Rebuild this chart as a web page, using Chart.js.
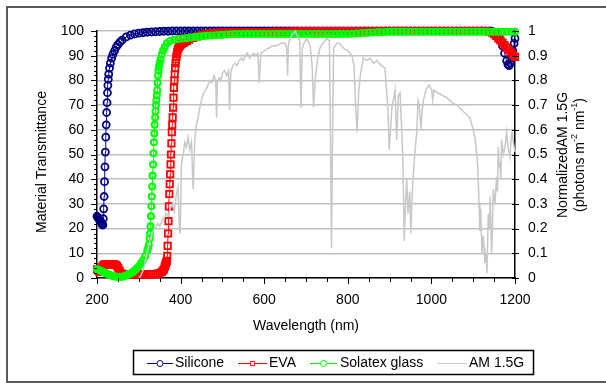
<!DOCTYPE html>
<html>
<head>
<meta charset="utf-8">
<script src="https://cdn.jsdelivr.net/npm/chart.js@4.4.0/dist/chart.umd.min.js"></script>
<style>
  html, body { margin: 0; padding: 0; background: #fff; }
  #wrap { width: 606px; height: 383px; }
</style>
</head>
<body>
<div id="wrap"><canvas id="chart" width="606" height="383"></canvas></div>
<script>
// ---- data ----
const seriesNames = ["Silicone", "EVA", "Solatex glass", "AM 1.5G"];

const siliconeWl = [
  200,202,204,206,208,210,212,213,214,215,
  216,217,218,219,220,221,222,223,224,225,
  226,227,228,230,232,235,238,242,246,250,
  255,260,270,280,290,300,310,320,330,340,
  350,360,370,
  380,390,400,410,420,430,440,450,460,470,480,
  490,500,510,520,530,540,550,560,570,580,590,
  600,610,620,630,640,650,660,670,680,690,700,
  710,720,730,740,750,760,770,780,790,800,810,
  820,830,840,850,860,870,880,890,900,910,920,
  930,940,950,960,970,980,990,1000,1010,1020,1030,
  1040,1050,1060,1070,1080,1090,1100,1110,1120,1130,1140,
  1145,1150,1155,1160,1165,1170,1175,1180,1183,1186,
  1189,1192,1195,1198,1200
];
const siliconeT = [
  25,24.5,24,23.5,23,22.5,22,21.5,21.5,24,
  28,33,39,45,51,57,62,67,71,75,
  78,80.5,82.5,85,87,89,90.5,92,93.5,94.5,
  95.5,96.3,97.6,98.3,98.8,99.1,99.3,99.5,99.6,99.7,
  99.8,99.9,99.9,
  100,100,100,100,100,100,100,100,100,100,100,
  100,100,100,100,100,100,100,100,100,100,100,
  100,100,100,100,100,100,100,100,100,100,100,
  100,100,100,100,100,100,100,100,100,100,100,
  100,100,100,100,100,100,100,100,100,100,100,
  100,100,100,100,100,100,100,100,100,100,100,
  100,100,100,100,100,100,100,100,100,100,100,
  99.8,99.5,99,98,96.5,94,91,88,86.5,86,
  87,89,92,95,97
];

const evaWl = [
  200,203,206,209,212,215,218,221,224,227,
  230,233,236,239,242,245,248,251,254,257,
  260,265,270,275,280,285,290,295,300,305,
  310,315,320,325,330,335,340,345,350,355,
  358,360,362,363,364,365,366,367,368,369,
  370,371,372,373,374,375,376,377,378,379,
  380,381,382,383,384,385,386,387,388,389,
  390,391,392,393,394,396,398,400,403,406,
  410,415,420,430,440,450,460,470,480,490,
  500,510,520,530,540,550,560,570,580,590,
  600,610,620,630,640,650,660,670,680,
  690,700,710,720,730,740,750,760,770,780,
  790,800,810,820,830,840,850,860,870,880,
  890,900,910,920,930,940,950,960,970,980,
  990,1000,1010,1020,1030,1040,1050,1060,1070,1080,
  1090,1100,1110,1120,1130,
  1140,1145,1150,1155,1160,1165,1170,1175,1180,1185,1190,1195,1200
];
const evaT = [
  3.5,3,2.5,3,4.5,5.2,5.5,5.5,5.5,5.5,
  5.5,5.5,5.5,5.5,5.5,5.2,4.8,4,3,2,
  1.5,1.4,1.5,1.5,1.4,1.5,1.5,1.5,1.4,1.5,
  1.5,1.5,1.5,1.5,1.5,1.6,1.6,1.8,2,2.5,
  3,3.5,4.5,5,5.5,6,6.5,7,9,13,
  18,23,29,34,38,42,46,50,54.5,59,
  62,65,69,73,77,80,82.5,85,87,88.5,
  89.5,90.5,91.5,92.2,92.8,93.5,94,94.4,94.8,95.2,
  95.5,96,96.5,97.2,97.8,98.3,98.7,99,99.2,99.3,
  99.4,99.4,99.5,99.5,99.5,99.5,99.6,99.6,99.6,99.6,
  99.6,99.6,99.7,99.7,99.7,99.7,99.8,99.8,99.8,
  100,100,100,100,100,100,100,100,100,100,
  100,100,100,100,100,100,100,100,100,100,
  100,100,100,100,100,100,100,100,100,100,
  100,100,100,100,100,100,100,100,100,100,
  100,100,100,100,100,
  99.7,99.3,98.7,98,97,96.2,95.3,94.3,93.3,92.3,91.3,90.3,89.5
];

const glassWl = [
  200,205,210,215,220,225,230,235,240,245,
  250,255,260,265,270,275,280,285,290,295,
  300,305,310,315,320,322,324,326,327,328,
  329,330,331,332,333,334,335,336,337,338,
  339,340,341,342,343,344,345,346,347,348,
  350,352,355,358,362,367,375,385,395,405,
  415,425,435,445,455,465,475,485,495,
  500,510,520,530,540,550,560,570,580,590,
  600,610,620,630,640,650,660,670,680,690,
  700,710,720,730,740,750,760,770,780,790,
  800,810,820,830,840,850,860,870,880,890,
  900,910,920,930,940,950,960,970,980,990,
  1000,1010,1020,1030,1040,1050,1060,1070,1080,1090,
  1100,1110,1120,1130,1140,1150,1160,1170,1180,1190,
  1200
];
const glassT = [
  3.5,3.2,2.8,2.4,2,1.6,1.3,1,0.7,0.5,
  0.4,0.4,0.5,0.7,1,1.4,1.8,2.3,3,3.8,
  4.8,6,7.2,8.8,11,12,13.5,16,18,21,
  25,29,33,37,41.5,46,50.5,55,58.5,62,
  65,67.5,70,72,74,76,79,82,84,85.5,
  87,88.5,90.5,92,93.5,95,96,96.5,96.8,97,
  97.2,97.4,97.6,97.8,98,98.1,98.2,98.3,98.4,
  98.5,98.6,98.7,98.8,98.8,98.8,98.8,98.8,98.8,98.8,
  98.8,98.8,98.8,98.8,98.8,98.8,98.8,98.8,98.8,98.8,
  98.8,98.8,98.8,98.8,98.8,98.8,98.8,98.8,98.8,98.8,
  98.8,98.9,99,99.1,99.2,99.3,99.4,99.5,99.5,99.6,
  99.7,99.7,99.7,99.7,99.7,99.7,99.7,99.7,99.7,99.7,
  99.7,99.7,99.7,99.7,99.7,99.7,99.7,99.7,99.7,99.7,
  99.7,99.7,99.7,99.7,99.7,99.7,99.7,99.7,99.7,99.7,
  99.7
];

// AM 1.5G, normalized (right axis)
const amWl = [
  300,305,310,315,320,325,330,335,340,345,
  350,355,360,365,370,375,380,385,390,394,
  397,399,402,406,410,414,418,422,426,430,
  434,438,442,446,450,455,460,465,470,475,
  480,484,486,488,492,496,500,505,510,515,
  517,520,525,530,535,540,545,550,555,560,
  565,570,575,580,585,588,592,600,610,620,
  630,640,650,654,656,658,665,674,680,685,
  688,691,695,702,710,715,718,722,727,733,
  740,750,756,759,761,763,766,774,780,790,
  800,810,815,818,822,826,830,837,845,853,
  862,870,880,889,893,896,899,902,906,910,
  913,917,921,925,929,932,935,938,941,944,
  948,951,953,956,960,965,968,971,975,978,
  981,985,989,995,1001,1003,1006,1015,1025,1037,
  1049,1061,1073,1085,1092,1100,1104,1107,1110,1112,
  1114,1116,1118,1121,1124,1126,1128,1131,1133,1136,
  1138,1140,1142,1144,1146,1148,1152,1156,1158,1160,
  1162,1164,1166,1168,1172,1176,1180,1184,1188,1191,
  1193,1196,1200
];
const amVal = [
  0,0.01,0.03,0.06,0.1,0.14,0.17,0.19,0.2,0.22,
  0.21,0.23,0.24,0.26,0.25,0.28,0.3,0.27,0.34,0.37,
  0.2,0.18,0.46,0.5,0.55,0.53,0.57,0.52,0.55,0.36,
  0.56,0.62,0.65,0.69,0.72,0.75,0.76,0.78,0.8,0.79,
  0.82,0.8,0.65,0.79,0.81,0.8,0.83,0.84,0.82,0.84,
  0.68,0.83,0.86,0.87,0.86,0.88,0.89,0.88,0.9,0.91,
  0.89,0.9,0.91,0.9,0.91,0.79,0.91,0.92,0.93,0.94,
  0.94,0.95,0.95,0.93,0.82,0.95,0.98,1,0.98,0.96,
  0.69,0.93,0.95,0.97,0.94,0.85,0.69,0.8,0.88,0.93,
  0.95,0.97,0.96,0.5,0.12,0.5,0.93,0.95,0.95,0.93,
  0.92,0.9,0.86,0.72,0.59,0.75,0.82,0.89,0.88,0.89,
  0.87,0.88,0.86,0.85,0.75,0.69,0.52,0.6,0.7,0.73,
  0.76,0.56,0.74,0.75,0.6,0.47,0.15,0.3,0.4,0.26,
  0.35,0.18,0.3,0.4,0.5,0.59,0.72,0.7,0.6,0.68,
  0.72,0.75,0.77,0.78,0.76,0.72,0.76,0.75,0.74,0.73,
  0.71,0.7,0.68,0.66,0.65,0.6,0.57,0.53,0.47,0.4,
  0.3,0.19,0.28,0.1,0.17,0.12,0.06,0.1,0.02,0.26,
  0.2,0.33,0.25,0.1,0.2,0.36,0.3,0.41,0.35,0.53,
  0.45,0.47,0.4,0.56,0.5,0.53,0.59,0.52,0.49,0.57,
  0.59,0.55,0.51
];

function pairs(xs, ys) {
  return xs.map((x, i) => ({ x: x, y: ys[i] }));
}

const FONT = "'Liberation Sans', Arial, sans-serif";

// text runs with superscripts, rotated to read bottom-to-top
function drawRotatedRuns(ctx, runs, cx, cy) {
  ctx.save();
  ctx.translate(cx, cy);
  ctx.rotate(-Math.PI / 2);
  ctx.textBaseline = "middle";
  ctx.textAlign = "left";
  let total = 0;
  runs.forEach(r => {
    ctx.font = (r.sup ? "9px " : "14px ") + FONT;
    r.w = ctx.measureText(r.t).width;
    total += r.w;
  });
  let pos = -total / 2;
  runs.forEach(r => {
    ctx.font = (r.sup ? "9px " : "14px ") + FONT;
    ctx.fillText(r.t, pos, r.sup ? -5 : 0);
    pos += r.w;
  });
  ctx.restore();
}

const extras = {
  id: "extras",
  afterDraw(chart) {
    const ctx = chart.ctx;
    const xs = chart.scales.x, ys = chart.scales.y, ys1 = chart.scales.y1;
    const area = chart.chartArea;
    ctx.save();

    // outer frame (runs off the right edge)
    ctx.strokeStyle = "#5a5a5a";
    ctx.lineWidth = 2;
    ctx.strokeRect(7, 7, 640, 375);

    // tick marks
    ctx.strokeStyle = "#000";
    ctx.lineWidth = 1;
    ctx.beginPath();
    for (let v = 200; v <= 1200; v += 50) {
      const px = Math.round(xs.getPixelForValue(v)) + 0.5;
      ctx.moveTo(px, area.bottom);
      ctx.lineTo(px, area.bottom + (v % 200 === 0 ? 6 : 4));
    }
    for (let v = 0; v <= 100; v += 2) {
      const py = Math.round(ys.getPixelForValue(v)) + 0.5;
      ctx.moveTo(area.left, py);
      ctx.lineTo(area.left - (v % 10 === 0 ? 6 : 3), py);
    }
    for (let v = 0; v <= 10; v++) {
      const py = Math.round(ys1.getPixelForValue(v / 10)) + 0.5;
      ctx.moveTo(area.right - 3, py);
      ctx.lineTo(area.right + 4, py);
    }
    ctx.stroke();

    // axis titles
    ctx.fillStyle = "#000";
    ctx.font = "14px " + FONT;
    ctx.textAlign = "center";
    ctx.textBaseline = "middle";
    ctx.fillText("Wavelength (nm)", 306, 326);

    ctx.save();
    ctx.translate(42, 162);
    ctx.rotate(-Math.PI / 2);
    ctx.fillText("Material Transmittance", 0, 0);
    ctx.restore();

    drawRotatedRuns(ctx, [{ t: "NormalizedAM 1.5G" }], 563, 155);
    drawRotatedRuns(ctx, [
      { t: "(photons m" }, { t: "-2", sup: true },
      { t: " nm" }, { t: "-1", sup: true }, { t: ")" }
    ], 580, 155);

    // legend
    ctx.strokeStyle = "#000";
    ctx.lineWidth = 1.5;
    ctx.strokeRect(133.5, 350.5, 400, 24);
    const items = [
      { x0: 147, x1: 173, tx: 175 },
      { x0: 238, x1: 267, tx: 269 },
      { x0: 310, x1: 337, tx: 340 },
      { x0: 437, x1: 467, tx: 469 }
    ];
    const ly = 363;
    items.forEach((it, i) => {
      const ds = chart.data.datasets[i];
      ctx.strokeStyle = ds.borderColor;
      ctx.lineWidth = 1;
      ctx.beginPath();
      ctx.moveTo(it.x0, ly + 0.5);
      ctx.lineTo(it.x1, ly + 0.5);
      ctx.stroke();
      if (ds.pointRadius > 0) {
        ctx.fillStyle = "#fff";
        Chart.helpers.drawPoint(ctx, {
          pointStyle: ds.pointStyle, rotation: 0,
          radius: 3, borderWidth: 1
        }, (it.x0 + it.x1) / 2, ly + 0.5);
      }
      ctx.fillStyle = "#000";
      ctx.font = "14px " + FONT;
      ctx.textAlign = "left";
      ctx.textBaseline = "middle";
      ctx.fillText(seriesNames[i], it.tx, ly);
    });

    ctx.restore();
  }
};

const tickFont = { family: FONT, size: 14 };

new Chart(document.getElementById("chart"), {
  type: "scatter",
  data: {
    datasets: [
      {
        label: seriesNames[0],
        data: pairs(siliconeWl, siliconeT),
        showLine: true,
        borderColor: "#000080",
        borderWidth: 1,
        pointStyle: "circle",
        pointRadius: 3.5,
        pointBorderWidth: 1.8,
        pointBackgroundColor: "rgba(0,0,0,0)",
        pointBorderColor: "#000080",
        yAxisID: "y",
        clip: false,
        order: 4
      },
      {
        label: seriesNames[1],
        data: pairs(evaWl, evaT),
        showLine: true,
        borderColor: "#ff0000",
        borderWidth: 1,
        pointStyle: "rect",
        pointRadius: 4.5,
        pointBorderWidth: 1.8,
        pointBackgroundColor: "rgba(0,0,0,0)",
        pointBorderColor: "#ff0000",
        yAxisID: "y",
        clip: false,
        order: 3
      },
      {
        label: seriesNames[2],
        data: pairs(glassWl, glassT),
        showLine: true,
        borderColor: "#00ff00",
        borderWidth: 1,
        pointStyle: "circle",
        pointRadius: 3,
        pointBorderWidth: 2,
        pointBackgroundColor: "rgba(0,0,0,0)",
        pointBorderColor: "#00ff00",
        yAxisID: "y",
        clip: false,
        order: 2
      },
      {
        label: seriesNames[3],
        data: pairs(amWl, amVal),
        showLine: true,
        borderColor: "#c8c8c8",
        borderWidth: 1.5,
        pointRadius: 0,
        yAxisID: "y1",
        clip: false,
        order: 1
      }
    ]
  },
  options: {
    responsive: false,
    devicePixelRatio: 1,
    animation: false,
    events: [],
    layout: { padding: { top: 31, bottom: 0, left: 0, right: 0 } },
    plugins: {
      legend: { display: false },
      tooltip: { enabled: false }
    },
    scales: {
      x: {
        type: "linear",
        min: 200,
        max: 1200,
        ticks: {
          stepSize: 200, color: "#000", font: tickFont, padding: 14, maxRotation: 0,
          callback: v => String(v)
        },
        grid: { display: false, drawTicks: false },
        border: { color: "#000", width: 1.5 },
        afterFit: s => { s.height = 105; }
      },
      y: {
        position: "left",
        min: 0,
        max: 100,
        ticks: { stepSize: 10, color: "#000", font: tickFont, padding: 13 },
        grid: { color: "#c0c0c0", lineWidth: 1.5, drawTicks: false },
        border: { color: "#000", width: 1.5 },
        afterFit: s => { s.width = 97; }
      },
      y1: {
        position: "right",
        min: 0,
        max: 1,
        ticks: {
          stepSize: 0.1, color: "#000", font: tickFont, padding: 13,
          callback: v => String(Math.round(v * 10) / 10)
        },
        grid: { drawOnChartArea: false, drawTicks: false },
        border: { color: "#000", width: 1.5 },
        afterFit: s => { s.width = 91; }
      }
    }
  },
  plugins: [extras]
});
</script>
</body>
</html>
